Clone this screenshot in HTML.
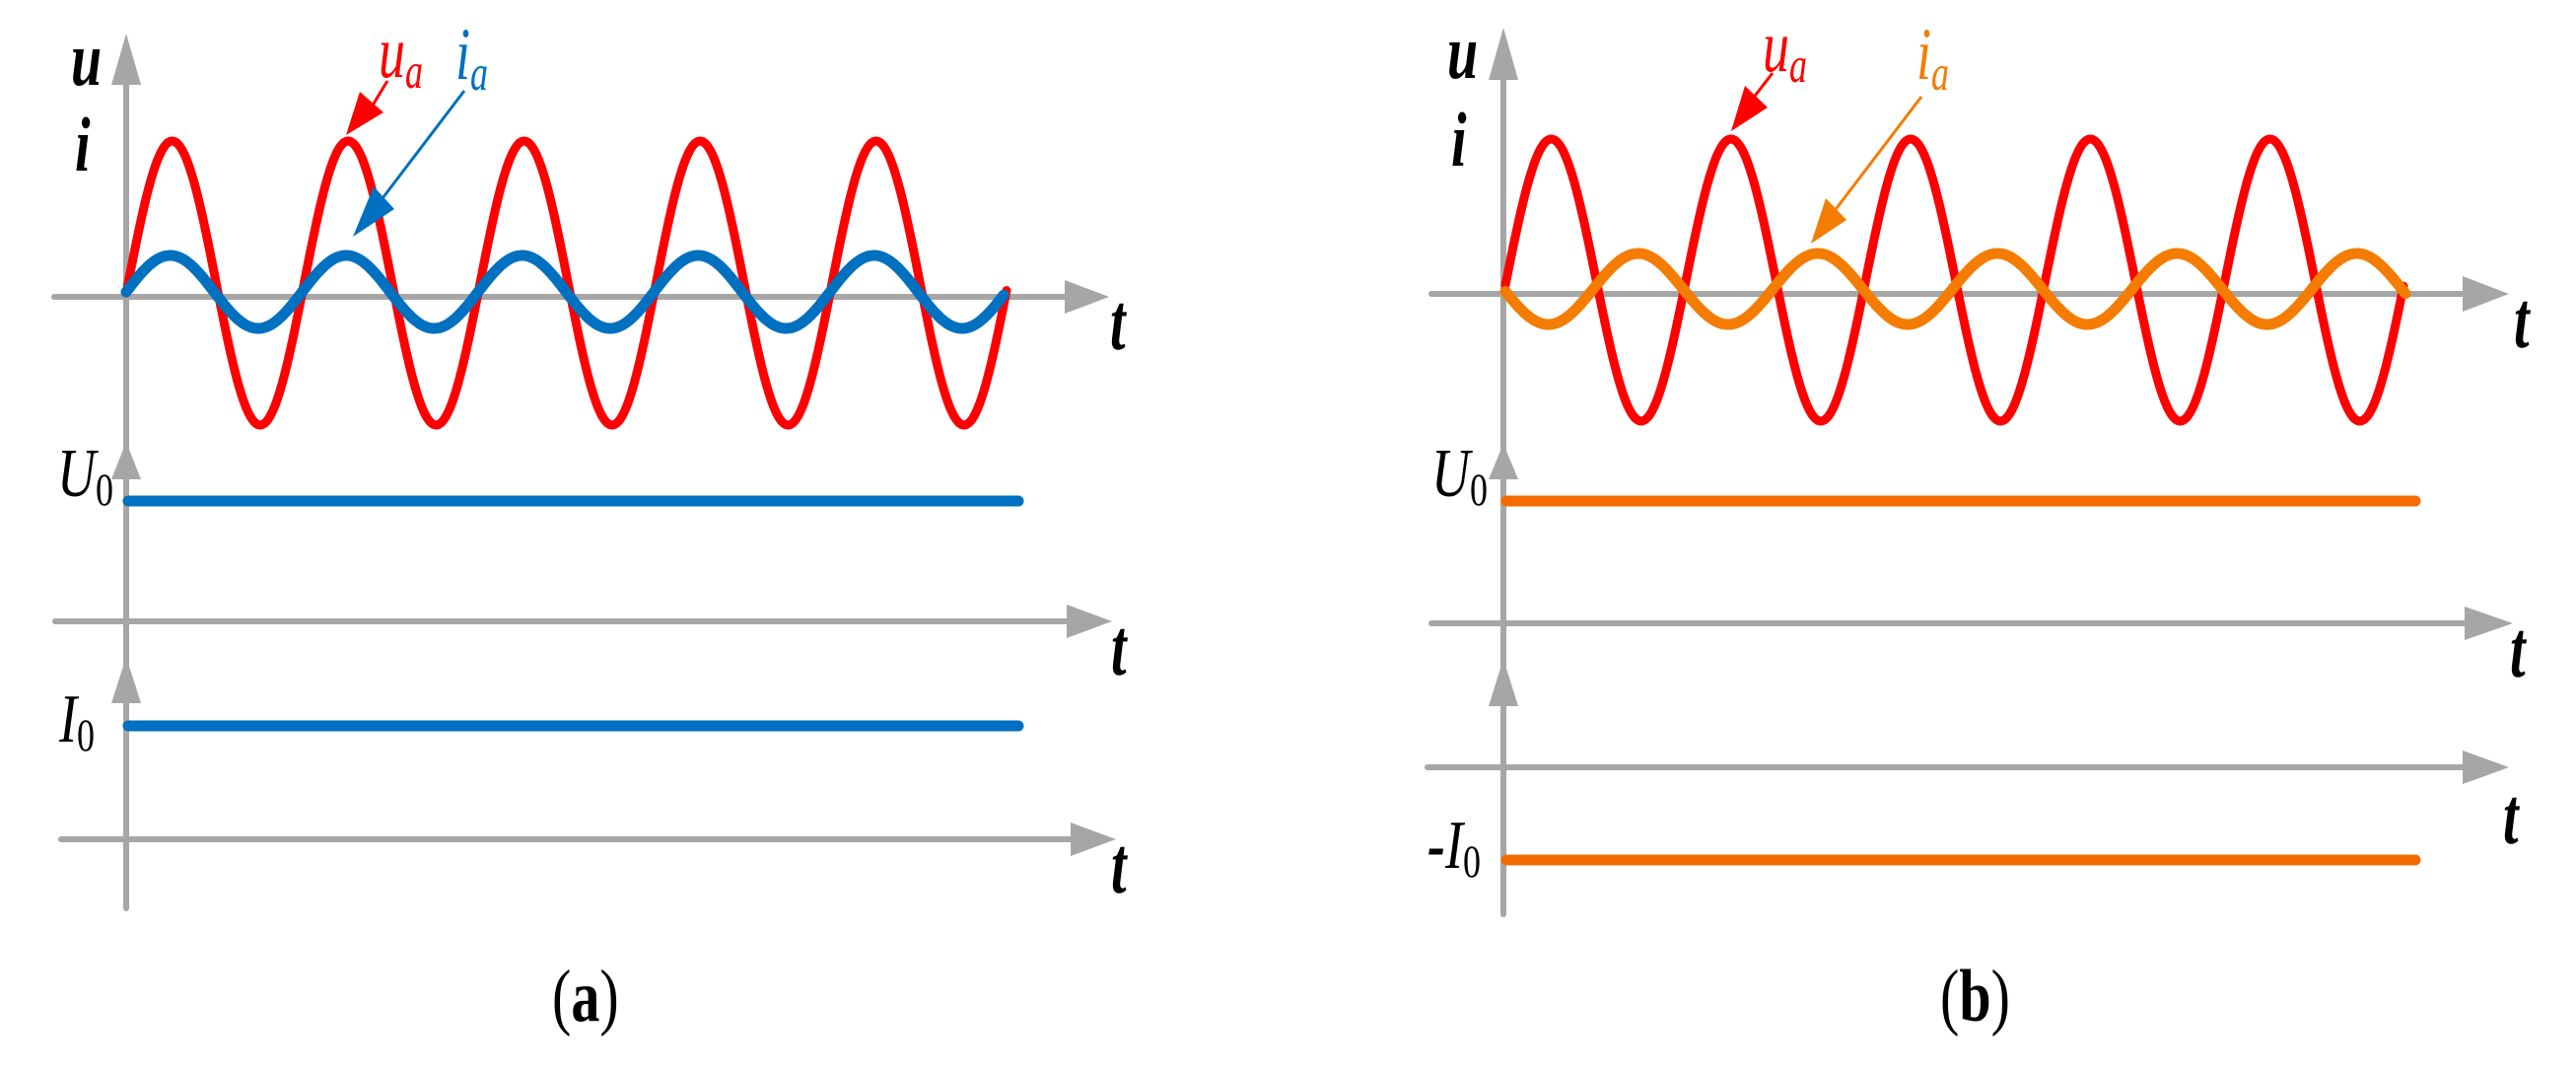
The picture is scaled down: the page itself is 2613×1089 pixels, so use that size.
<!DOCTYPE html>
<html><head><meta charset="utf-8"><style>
html,body{margin:0;padding:0;background:#fff;}
svg{display:block;}
text{font-family:"Liberation Serif",serif;}
</style></head><body>
<svg id="s" width="2613" height="1089" viewBox="0 0 2613 1089" xmlns="http://www.w3.org/2000/svg">
<g stroke="#a6a6a6" stroke-width="6" fill="none" stroke-linecap="round">
  <line x1="128" y1="60" x2="128" y2="921"/>
  <line x1="55" y1="301" x2="1090" y2="301"/>
  <line x1="56" y1="630" x2="1090" y2="630"/>
  <line x1="62" y1="851" x2="1095" y2="851"/>
  <line x1="1525" y1="60" x2="1525" y2="927"/>
  <line x1="1452" y1="298" x2="2505" y2="298"/>
  <line x1="1452" y1="632" x2="2505" y2="632"/>
  <line x1="1448" y1="778" x2="2505" y2="778"/>
</g>
<g fill="#a6a6a6">
  <polygon points="128,34 113,86 143,86"/>
  <polygon points="128,448 113,486 143,486"/>
  <polygon points="128,666 113,713 143,713"/>
  <polygon points="1125,301 1080,284 1080,318"/>
  <polygon points="1128,630 1082,613 1082,647"/>
  <polygon points="1132,851 1086,834 1086,868"/>
  <polygon points="1525,28 1510,81 1540,81"/>
  <polygon points="1525,450 1510,486 1540,486"/>
  <polygon points="1525,668 1510,716 1540,716"/>
  <polygon points="2545,298 2498,280 2498,316"/>
  <polygon points="2549,632 2500,615 2500,649"/>
  <polygon points="2545,778 2498,761 2498,795"/>
</g>
<g id="waves" fill="none" stroke-linejoin="round" stroke-linecap="round"></g>
<g stroke-linecap="round" stroke-width="11">
  <line x1="130" y1="508" x2="1033" y2="508" stroke="#0070c0"/>
  <line x1="130" y1="736" x2="1033" y2="736" stroke="#0070c0"/>
  <line x1="1528" y1="508" x2="2450" y2="508" stroke="#f46c00"/>
  <line x1="1528" y1="872" x2="2450" y2="872" stroke="#f46c00"/>
</g>
<line x1="393" y1="82" x2="370" y2="120" stroke="#ff0000" stroke-width="3"/>
<polygon points="365,93 389,114 351,137" fill="#ff0000"/>
<line x1="471" y1="92" x2="385" y2="205" stroke="#0070c0" stroke-width="3"/>
<polygon points="379,189 400,212 358,240" fill="#0070c0"/>
<line x1="1798" y1="74" x2="1778" y2="100" stroke="#ff0000" stroke-width="3"/>
<polygon points="1770,87 1793,109 1756,133" fill="#ff0000"/>
<line x1="1949" y1="98" x2="1860" y2="215" stroke="#f47c00" stroke-width="3"/>
<polygon points="1852,201 1873,223 1837,247" fill="#f47c00"/>
<g font-style="italic" font-weight="bold" font-size="56">
  <text transform="translate(72,86) scale(1,1.4)">u</text>
  <text transform="translate(76,173) scale(1,1.4)">i</text>
  <text transform="translate(1468,79) scale(1,1.4)">u</text>
  <text transform="translate(1472,168) scale(1,1.4)">i</text>
  <text transform="translate(1126,354) scale(1,1.45)">t</text>
  <text transform="translate(1127,684) scale(1,1.45)">t</text>
  <text transform="translate(1127,905) scale(1,1.45)">t</text>
  <text transform="translate(2550,352) scale(1,1.45)">t</text>
  <text transform="translate(2546,686) scale(1,1.45)">t</text>
  <text transform="translate(2539,855) scale(1,1.45)">t</text>
</g>
<g font-style="italic" font-size="54">
  <text transform="translate(384,78) scale(1,1.4)" fill="#ff0000">u<tspan font-size="36" dy="8">a</tspan></text>
  <text transform="translate(462,80) scale(1,1.4)" fill="#0070c0">i<tspan font-size="36" dy="8">a</tspan></text>
  <text transform="translate(1788,72) scale(1,1.4)" fill="#ff0000">u<tspan font-size="36" dy="8">a</tspan></text>
  <text transform="translate(1944,80) scale(1,1.4)" fill="#f47c00">i<tspan font-size="36" dy="8">a</tspan></text>
  <text transform="translate(58,503) scale(1,1.3)">U<tspan font-size="36" font-style="normal" dy="7">0</tspan></text>
  <text transform="translate(60,752) scale(1,1.3)">I<tspan font-size="36" font-style="normal" dy="7">0</tspan></text>
  <text transform="translate(1452,503) scale(1,1.3)">U<tspan font-size="36" font-style="normal" dy="7">0</tspan></text>
  <text transform="translate(1448,880) scale(1,1.3)"><tspan font-weight="bold">-</tspan>I<tspan font-size="36" font-style="normal" dy="7">0</tspan></text>
</g>
<g font-size="58">
  <text transform="translate(560,1035) scale(1,1.3)">(<tspan font-weight="bold">a</tspan>)</text>
  <text transform="translate(1968,1035) scale(1,1.3)">(<tspan font-weight="bold">b</tspan>)</text>
</g>
</svg>
<script>
(function(){
  var g=document.getElementById('waves');
  function wave(x0,x1,fn,color,w){
    var d='';
    for(var x=x0;x<=x1;x+=1){d+=(x===x0?'M':'L')+x+','+fn(x).toFixed(1);}
    var p=document.createElementNS('http://www.w3.org/2000/svg','path');
    p.setAttribute('d',d);p.setAttribute('stroke',color);p.setAttribute('stroke-width',w);
    g.appendChild(p);
  }
  var T=2*Math.PI;
  wave(128,1021,function(x){return 287-144*Math.sin(T*(x-130)/178.5);},'#ff0000',9);
  wave(128,1018,function(x){return 296-37*Math.sin(T*(x-128)/178.5);},'#0070c0',11);
  wave(1527,2438,function(x){return 284-143*Math.sin(T*(x-1528)/182.25);},'#ff0000',9);
  wave(1527,2440,function(x){return 293+36*Math.sin(T*(x-1525)/182.25);},'#f47c00',11);
})();
</script>
</body></html>
